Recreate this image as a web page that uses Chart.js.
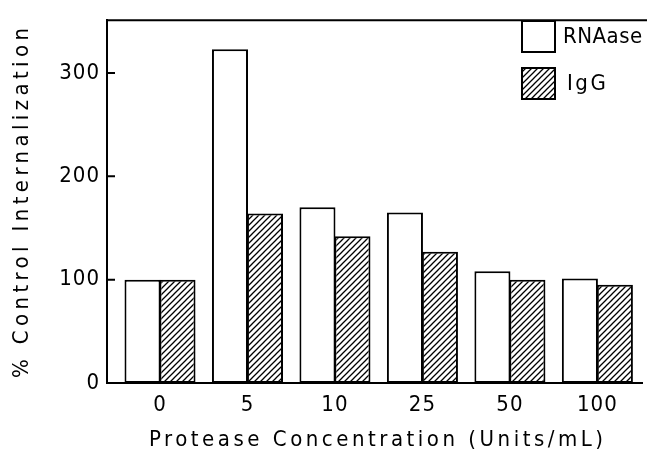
<!DOCTYPE html>
<html><head><meta charset="utf-8">
<script src="https://cdn.jsdelivr.net/npm/chart.js@4"></script>
<style>html,body{margin:0;padding:0;background:#fff}#wrap{width:647px;height:457px;position:relative}</style>
</head><body><div id="wrap"><canvas id="c"></canvas></div>
<script>
const categories = ['0', '5', '10', '25', '50', '100'];
const rnaase = [100, 323, 170, 165, 108, 101];
const igg = [100, 164, 142, 127, 100, 95];
const yTicks = [0, 100, 200, 300];
const seriesNames = ['RNAase', 'IgG'];
const xTitle = 'Protease Concentration (Units/mL)';
const yTitle = '% Control Internalization';

const FONT = "'Liberation Sans Narrow', 'DejaVu Sans Condensed', 'Liberation Sans', sans-serif";

function hatch() {
  const s = 6, c = document.createElement('canvas');
  c.width = s; c.height = s;
  const g = c.getContext('2d');
  g.fillStyle = '#fff'; g.fillRect(0, 0, s, s);
  g.strokeStyle = '#000'; g.lineWidth = 1.3;
  g.beginPath();
  g.moveTo(-1, s + 1); g.lineTo(s + 1, -1);
  g.moveTo(-1, 1); g.lineTo(1, -1);
  g.moveTo(s - 1, s + 1); g.lineTo(s + 1, s - 1);
  g.stroke();
  return g.createPattern(c, 'repeat');
}
const hatchPattern = hatch();

const toPts = arr => arr.map((v, i) => ({ x: i, y: v }));

function spacedText(ctx, text, cx, cy, targetW) {
  ctx.letterSpacing = '0px';
  const w = ctx.measureText(text).width;
  const sp = (targetW - w) / (text.length - 1);
  ctx.letterSpacing = sp + 'px';
  ctx.textAlign = 'left';
  ctx.textBaseline = 'middle';
  ctx.fillText(text, cx - targetW / 2, cy);
  ctx.letterSpacing = '0px';
}

const decor = {
  id: 'decor',
  beforeDraw(chart) {
    chart.ctx.letterSpacing = '1px';
  },
  afterDraw(chart) {
    const ctx = chart.ctx, a = chart.chartArea, y = chart.scales.y;
    ctx.save();
    ctx.letterSpacing = '0px';
    ctx.strokeStyle = '#000';
    ctx.lineWidth = 2;
    // top frame line
    ctx.beginPath();
    ctx.moveTo(a.left - 1, a.top);
    ctx.lineTo(647, a.top);
    ctx.stroke();
    // inward y tick marks
    ctx.beginPath();
    yTicks.forEach(v => {
      const py = y.getPixelForValue(v);
      ctx.moveTo(a.left, py); ctx.lineTo(a.left + 8, py);
    });
    ctx.stroke();
    // legend
    const fills = ['#fff', hatchPattern];
    ctx.font = '22px ' + FONT;
    seriesNames.forEach((n, i) => {
      const bx = 522, by = 21 + i * 47;
      ctx.fillStyle = fills[i];
      ctx.fillRect(bx, by, 33, 31);
      ctx.strokeRect(bx, by, 33, 31);
      ctx.fillStyle = '#000';
      ctx.letterSpacing = (i === 0 ? 0.5 : 2.5) + 'px';
      ctx.textAlign = 'left';
      ctx.textBaseline = 'middle';
      ctx.fillText(n, 563 + (i === 0 ? 0 : 4), by + 16);
    });
    // axis titles
    ctx.font = '22px ' + FONT;
    spacedText(ctx, xTitle, 376, 440, 454);
    ctx.translate(22, 203);
    ctx.rotate(-Math.PI / 2);
    spacedText(ctx, yTitle, 0, 0, 350);
    ctx.restore();
  }
};

new Chart(document.getElementById('c'), {
  type: 'bar',
  data: {
    datasets: [
      { label: seriesNames[0], data: toPts(rnaase), backgroundColor: '#fff', borderColor: '#000', borderWidth: 2, borderSkipped: false },
      { label: seriesNames[1], data: toPts(igg), backgroundColor: hatchPattern, borderColor: '#000', borderWidth: 2, borderSkipped: false }
    ]
  },
  options: {
    responsive: true,
    maintainAspectRatio: false,
    animation: false,
    categoryPercentage: 0.8,
    barPercentage: 1.03,
    layout: { padding: { top: 13, right: 5, left: 0, bottom: 0 } },
    plugins: { legend: { display: false }, tooltip: { enabled: false } },
    scales: {
      x: {
        type: 'linear',
        offset: false,
        min: -0.606,
        max: 5.51,
        afterFit: s => { s.height = 74; },
        afterBuildTicks: s => { s.ticks = categories.map((c, i) => ({ value: i })); },
        grid: { display: false, drawTicks: false, offset: false },
        border: { display: true, color: '#000', width: 2 },
        ticks: {
          color: '#000', padding: 9,
          font: { family: FONT, size: 22 },
          maxRotation: 0, autoSkip: false,
          callback: (v) => categories[v] !== undefined ? categories[v] : ''
        }
      },
      y: {
        min: 0,
        max: 351,
        afterFit: s => { s.width = 107; },
        afterBuildTicks: s => { s.ticks = yTicks.map(v => ({ value: v })); },
        grid: { display: false, drawTicks: false },
        border: { display: true, color: '#000', width: 2 },
        ticks: { color: '#000', padding: 7, font: { family: FONT, size: 22 } }
      }
    }
  },
  plugins: [decor]
});
</script>
</body></html>
